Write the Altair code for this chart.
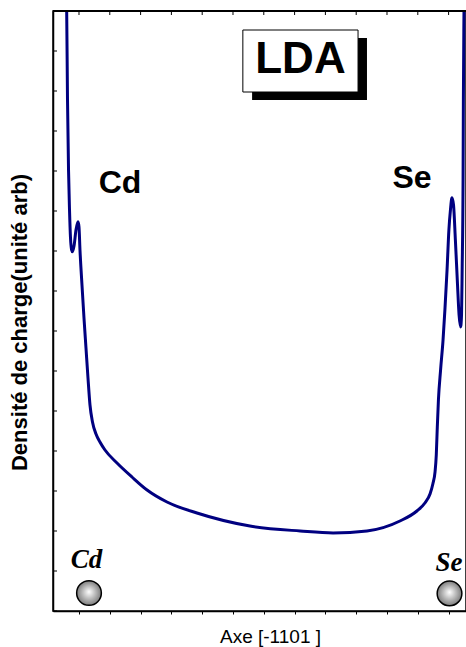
import altair as alt
import pandas as pd

# ---- data (x in axis-tick units, y in arbitrary charge-density units) ----
curve_x = [-0.44, -0.40, -0.373, -0.34, -0.308, -0.276, -0.24, -0.21, -0.16, -0.097, -0.03,
           0.0, 0.032, 0.097, 0.162, 0.227, 0.292, 0.357, 0.438, 0.552, 0.68, 0.844,
           1.234, 1.72, 2.21, 2.857, 3.83, 5.55, 7.18, 8.25, 9.35, 10.42, 10.97, 11.23,
           11.40, 11.49, 11.56, 11.60, 11.63, 11.67, 11.74, 11.82, 11.88, 11.95, 12.01,
           12.06, 12.11, 12.16, 12.22, 12.29, 12.34, 12.39, 12.42, 12.44, 12.47, 12.48,
           12.50, 12.51]
curve_y = [16.0, 15.02, 12.78, 11.03, 10.03, 9.33, 9.03, 8.98, 9.13, 9.53, 9.73,
           9.60, 9.025, 8.15, 7.325, 6.575, 5.825, 5.15, 4.725, 4.425, 4.225, 4.025,
           3.70, 3.35, 3.025, 2.725, 2.45, 2.125, 2.00, 1.95, 2.00, 2.25, 2.50, 2.70,
           2.93, 3.18, 3.48, 3.90, 4.53, 5.28, 6.03, 6.78, 7.53, 8.53, 9.53,
           10.03, 10.33, 10.15, 9.28, 8.15, 7.40, 7.10, 7.40, 8.53, 10.78, 12.78,
           15.02, 16.0]

tick_x = list(range(13))
tick_y = list(range(16))
y_top = 15
x_left, x_right = -0.844, 12.565

atom_names = ["Cd", "Se"]
atom_x = [0.325, 12.03]
atom_y = [0.45, 0.44]
atom_label_x = [0.244, 12.01]
atom_label_y = [1.075, 1.0]

big_label_x = [1.33, 10.81]
big_label_y = [10.45, 10.575]

title_text = ["LDA"]
title_x = [7.19]
title_y = [13.45]
box_x = [5.32]
box_x2 = [9.06]
box_y = [14.525]
box_y2 = [12.975]
shadow_x = [5.62]
shadow_x2 = [9.35]
shadow_y = [14.325]
shadow_y2 = [12.775]

x_title = "Axe [-1101 ]"
y_title = "Densité de charge(unité arb)"

W, H = 413, 600
xs = alt.Scale(domain=[x_left, x_right], nice=False, zero=False)
ys = alt.Scale(domain=[0, y_top], nice=False, zero=False)

curve_df = pd.DataFrame({"x": curve_x, "y": curve_y})
atoms_df = pd.DataFrame({"name": atom_names, "x": atom_x, "y": atom_y,
                         "lx": atom_label_x, "ly": atom_label_y,
                         "bx": big_label_x, "by": big_label_y})
tx_df = pd.DataFrame({"v": tick_x, "top": [y_top] * len(tick_x),
                      "top2": [y_top - 0.1] * len(tick_x)})
ty_df = pd.DataFrame({"v": tick_y})
frame_df = pd.DataFrame({"x": [x_left], "x2": [x_right], "y": [y_top]})
lda_df = pd.DataFrame({"t": title_text, "x": title_x, "y": title_y,
                       "bx": box_x, "bx2": box_x2, "by": box_y, "by2": box_y2,
                       "sx": shadow_x, "sx2": shadow_x2, "sy": shadow_y, "sy2": shadow_y2})

SANS = "Liberation Sans"

ax_x = alt.Axis(
    values=tick_x, labels=False, ticks=True, tickSize=3, tickColor="black",
    tickWidth=1, domain=True, domainColor="black", domainWidth=1.5, grid=False,
    title=x_title, titleFont=SANS, titleFontSize=19, titleFontWeight="normal",
    titleColor="black", titleX=217, titleY=31, titleAlign="center",
    titleBaseline="alphabetic")
ax_y = alt.Axis(
    labels=False, ticks=False, domain=True, domainColor="black", domainWidth=1.5,
    grid=False, title=y_title, titleFont=SANS, titleFontSize=22,
    titleFontWeight="bold", titleColor="black", titleAngle=270, titleX=-34,
    titleY=311, titleAlign="center", titleBaseline="middle")


def X(f):
    return alt.X(f, scale=xs, axis=ax_x, title=x_title)


def Y(f):
    return alt.Y(f, scale=ys, axis=ax_y, title=y_title)


line = alt.Chart(curve_df).mark_line(
    color="#000080", strokeWidth=3, interpolate="monotone", clip=True
).encode(x=X("x:Q"), y=Y("y:Q"))

left_ticks = alt.Chart(ty_df).mark_rule(color="black", strokeWidth=1).encode(
    y=Y("v:Q"), x=alt.value(0), x2=alt.value(4))
top_ticks = alt.Chart(tx_df).mark_rule(color="black", strokeWidth=1).encode(
    x=X("v:Q"), y=Y("top:Q"), y2="top2:Q")
top_line = alt.Chart(frame_df).mark_rule(color="black", strokeWidth=2).encode(
    x=X("x:Q"), x2="x2:Q", y=Y("y:Q"))

shadow = alt.Chart(lda_df).mark_rect(color="black").encode(
    x=X("sx:Q"), x2="sx2:Q", y=Y("sy:Q"), y2="sy2:Q")
box = alt.Chart(lda_df).mark_rect(fill="white", stroke="black", strokeWidth=1).encode(
    x=X("bx:Q"), x2="bx2:Q", y=Y("by:Q"), y2="by2:Q")
lda_text = alt.Chart(lda_df).mark_text(
    font=SANS, fontSize=44, fontWeight="bold", color="black", align="center",
    baseline="alphabetic").encode(x=X("x:Q"), y=Y("y:Q"), text="t:N")

big_labels = alt.Chart(atoms_df).mark_text(
    font=SANS, fontSize=32, fontWeight="bold", color="black", align="center",
    baseline="alphabetic").encode(x=X("bx:Q"), y=Y("by:Q"), text="name:N")

atom_labels = alt.Chart(atoms_df).mark_text(
    font="Liberation Serif", fontSize=27, fontWeight="bold", fontStyle="italic",
    color="black", align="center", baseline="alphabetic").encode(
    x=X("lx:Q"), y=Y("ly:Q"), text="name:N")

grad = alt.RadialGradient(
    gradient="radial",
    stops=[alt.GradientStop(offset=0, color="#ffffff"),
           alt.GradientStop(offset=1, color="#7c7c7c")],
    x1=0.5, y1=0.45, r1=0, x2=0.5, y2=0.5, r2=0.5)
atoms = alt.Chart(atoms_df).mark_point(
    shape="circle", filled=True, fill=grad, stroke="black", strokeWidth=1.5,
    size=610, opacity=1, fillOpacity=1, strokeOpacity=1).encode(
    x=X("x:Q"), y=Y("y:Q"))

chart = alt.layer(
    line, left_ticks, top_ticks, top_line, shadow, box, lda_text,
    big_labels, atom_labels, atoms
).properties(
    width=W, height=H,
    autosize=alt.AutoSizeParams(type="none"),
    padding={"left": 53, "top": 11, "right": 0, "bottom": 36},
    background="white",
).configure_view(stroke="black", strokeWidth=1.5)

chart.save("out.html", embed_options={"renderer": "svg", "actions": False})
